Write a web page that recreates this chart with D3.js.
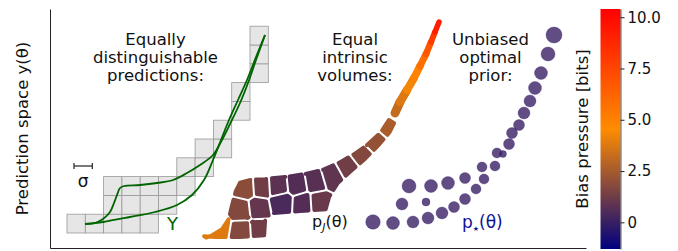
<!DOCTYPE html>
<html>
<head>
<meta charset="utf-8">
<script src="https://cdn.jsdelivr.net/npm/d3@7"></script>
<style>
  body { margin: 0; background: #fff; }
  text { font-family: "DejaVu Sans", sans-serif; fill: #111; }
</style>
</head>
<body>
<svg id="chart" width="678" height="251"></svg>
<script>
// ---- data (prediction-space units) ----
// grid of sigma-sized cells, [column, row]
const gridCells = [
  [0,0],[1,0],[2,0],[3,0],[4,0],
  [2,1],[3,1],[4,1],[5,1],
  [2,2],[3,2],[4,2],[5,2],[6,2],
  [6,3],[7,3],[7,4],[8,4],[8,5],
  [9,6],[9,7],[10,8],[10,9],[10,10]
];
const sigmaX = 18.3, sigmaY = 18.8, gridX0 = 17, gridY0 = 15;

// model manifold curves Y
const curveK = [[35,24],[45,25],[53,29],[60,36],[64,45],[67,53],[70,60],[74,62],[90,63],[107,65],[123,68],
  [137,75],[150,83],[163,93],[172,108],[180,124],[190,145],[198,165],[206,188],[215,213]];
const curveL = [[35,24],[53,26],[80,31],[105,36],[127,43],[142,53],[154,68],[163,88],[171,108],
  [179,128],[188,148],[197,168],[206,191],[215,213]];

// Jeffreys prior region: outline of the band
const bandUpper = [[150,11],[160,15],[170,21],[176,30],[179,43],[183,58],[188,68],[200,71],[215,72],[235,74],
  [255,77],[272,81],[288,88],[302,96],[315,105],[328,117],[338,132]];
const bandLower = [[348,126],[342,114],[330,100],[316,86],[302,74],[290,63],[282,50],[278,36],[250,34],
  [225,32],[218,26],[217,10],[190,8],[165,8],[153,9]];
// cell seeds [x, y, bias pressure]
const cellSeeds = [
  [168,21,3.8],[192,17,1.7],[209,18,1.3],
  [191,38,1.7],[208,40,1.0],[232,45,0.4],[253,44,0.6],[269,45,1.1],
  [196,60,1.9],[211,61,1.3],[228,62,0.8],[247,64,0.6],[265,67,0.7],[282,72,0.9],[298,81,1.3],
  [312,92,1.7],[326,106,2.1],[339,121,2.6]
];
// thin high-bias tail [x, y, bias pressure]
const tailPoints = [[345,135,2.9],[350,146,3.5],[357,158,4.0],[364,170,4.6],[370,182,5.3],
  [376,194,6.2],[381,206,7.3],[385,216,8.5],[389,226,10.0]];

// optimal prior atoms [x, y, mass]
const priorAtoms = [
  [323,26,0.83],[343,25,0.66],[363,26,0.56],[378,30,0.56],[392,35,0.56],[404,41,0.47],[415,49,0.47],
  [426,59,0.39],[434,69,0.39],[445,82,0.39],[447,95,0.39],[453,94,0.19],[459,104,0.47],[462,115,0.47],
  [469,123,0.47],[474,135,0.56],[480,147,0.56],[485,160,0.66],[491,175,0.66],[498,194,0.77],[504,213,1.0],
  [359,62,0.77],[381,62,0.66],[398,65,0.66],[415,70,0.47],[432,81,0.39],
  [352,44,0.56],[376,46,0.25]
];

const biasDomain = [-1.3, 10.4];
const biasColors = ["#000080", "#ff8c00", "#ff0000"];
const biasTicks = [0, 2.5, 5, 7.5, 10];

// ---- scales ----
const svg = d3.select("#chart");
const x = d3.scaleLinear().domain([0, 536]).range([50, 586]);
const y = d3.scaleLinear().domain([0, 239]).range([248, 9]);
const color = d3.scaleLinear()
  .domain([biasDomain[0], (biasDomain[0] + biasDomain[1]) / 2, biasDomain[1]])
  .range(biasColors);
const rScale = d3.scaleSqrt().domain([0, 1]).range([0, 8]);

// ---- left panel: grid + curves ----
svg.append("g").selectAll("rect")
  .data(gridCells)
  .join("rect")
    .attr("x", d => x(gridX0 + d[0] * sigmaX))
    .attr("y", d => y(gridY0 + (d[1] + 1) * sigmaY))
    .attr("width", d => x(gridX0 + (d[0] + 1) * sigmaX) - x(gridX0 + d[0] * sigmaX))
    .attr("height", d => y(gridY0 + d[1] * sigmaY) - y(gridY0 + (d[1] + 1) * sigmaY))
    .attr("fill", "#e6e6e6")
    .attr("stroke", "#999")
    .attr("stroke-width", 0.8);

const line = d3.line().x(d => x(d[0])).y(d => y(d[1])).curve(d3.curveCatmullRom.alpha(0.5));
svg.append("g").selectAll("path")
  .data([curveK, curveL])
  .join("path")
    .attr("d", line)
    .attr("fill", "none")
    .attr("stroke", "#006400")
    .attr("stroke-width", 1.8);

// sigma scale bar
const sbY = 82, sbX = 24;
const sb = svg.append("g").attr("stroke", "#222").attr("stroke-width", 1.2);
sb.append("line").attr("x1", x(sbX)).attr("x2", x(sbX + sigmaX)).attr("y1", y(sbY)).attr("y2", y(sbY));
sb.append("line").attr("x1", x(sbX)).attr("x2", x(sbX)).attr("y1", y(sbY) - 3).attr("y2", y(sbY) + 3);
sb.append("line").attr("x1", x(sbX + sigmaX)).attr("x2", x(sbX + sigmaX)).attr("y1", y(sbY) - 3).attr("y2", y(sbY) + 3);
svg.append("text").attr("x", x(sbX + sigmaX / 2)).attr("y", y(61)).attr("text-anchor", "middle")
  .style("font-size", "17px").text("σ");

svg.append("text").attr("x", x(122.5)).attr("y", y(18)).attr("text-anchor", "middle")
  .style("font-size", "18px").style("fill", "#006400").text("Y");

// ---- middle panel: clipped voronoi cells ----
function signedArea(poly) {
  let s = 0;
  for (let i = 0; i < poly.length; i++) {
    const a = poly[i], b = poly[(i + 1) % poly.length];
    s += a[0] * b[1] - b[0] * a[1];
  }
  return s;
}

function lineCross(p, q, a, b) {
  const A1 = q[0] - p[0], A2 = q[1] - p[1], B1 = b[0] - a[0], B2 = b[1] - a[1];
  const den = A1 * B2 - A2 * B1;
  if (Math.abs(den) < 1e-9) return null;
  const t = ((a[0] - p[0]) * B2 - (a[1] - p[1]) * B1) / den;
  return [p[0] + t * A1, p[1] + t * A2];
}

// clip any polygon by a convex one (Sutherland-Hodgman)
function clipPoly(subject, clip) {
  const sgn = signedArea(clip) > 0 ? 1 : -1;
  let out = subject;
  for (let i = 0; i < clip.length && out.length; i++) {
    const a = clip[i], b = clip[(i + 1) % clip.length];
    const inside = p => sgn * ((b[0] - a[0]) * (p[1] - a[1]) - (b[1] - a[1]) * (p[0] - a[0])) >= 0;
    const input = out;
    out = [];
    for (let j = 0; j < input.length; j++) {
      const p = input[j], q = input[(j + 1) % input.length];
      const pin = inside(p), qin = inside(q);
      if (pin) { out.push(p); if (!qin) out.push(lineCross(p, q, a, b)); }
      else if (qin) out.push(lineCross(p, q, a, b));
    }
  }
  return out;
}

// move every edge inwards by d
function insetPoly(poly, d) {
  const pts = poly.filter((p, i) => {
    const q = poly[(i + 1) % poly.length];
    return Math.hypot(p[0] - q[0], p[1] - q[1]) > 0.6;
  });
  const n = pts.length;
  const sgn = signedArea(pts) > 0 ? 1 : -1;
  const edges = pts.map((a, i) => {
    const b = pts[(i + 1) % n];
    const dx = b[0] - a[0], dy = b[1] - a[1], L = Math.hypot(dx, dy);
    const nx = -dy / L * sgn * d, ny = dx / L * sgn * d;
    return [[a[0] + nx, a[1] + ny], [b[0] + nx, b[1] + ny]];
  });
  return pts.map((p, i) => {
    const e1 = edges[(i - 1 + n) % n], e2 = edges[i];
    let q = lineCross(e1[0], e1[1], e2[0], e2[1]) || e2[0];
    const dist = Math.hypot(q[0] - p[0], q[1] - p[1]);
    if (dist > 3 * d) q = [p[0] + (q[0] - p[0]) * 3 * d / dist, p[1] + (q[1] - p[1]) * 3 * d / dist];
    return q;
  });
}

const bandPx = bandUpper.concat(bandLower).map(d => [x(d[0]), y(d[1])]);
const seedsPx = cellSeeds.map(d => [x(d[0]), y(d[1])]);
const voronoi = d3.Delaunay.from(seedsPx).voronoi([0, 0, 678, 251]);
const cells = cellSeeds.map((d, i) => {
  const cell = voronoi.cellPolygon(i).slice(0, -1);
  return {poly: insetPoly(clipPoly(bandPx, cell), 2.9), v: d[2]};
});

svg.append("g").selectAll("path")
  .data(cells)
  .join("path")
    .attr("d", d => "M" + d.poly.map(p => p.join(",")).join("L") + "Z")
    .attr("fill", d => color(d.v))
    .attr("stroke", d => color(d.v))
    .attr("stroke-width", 3.8)
    .attr("stroke-linejoin", "round");

// tail: short round-capped segments
const tailSegs = d3.pairs(tailPoints);
svg.append("g").selectAll("line")
  .data(tailSegs)
  .join("line")
    .attr("x1", d => x(d[0][0])).attr("y1", d => y(d[0][1]))
    .attr("x2", d => x(d[1][0])).attr("y2", d => y(d[1][1]))
    .attr("stroke", d => color((d[0][2] + d[1][2]) / 2))
    .attr("stroke-width", (d, i) => 9 - i * 0.5)
    .attr("stroke-linecap", "round");

const pj = svg.append("text").attr("x", x(262)).attr("y", y(21)).style("font-size", "16px");
pj.append("tspan").text("p");
pj.append("tspan").attr("dy", 4).style("font-size", "11px").style("font-style", "italic").text("J");
pj.append("tspan").attr("dy", -4).text("(θ)");

// ---- right panel: optimal prior atoms ----
svg.append("g").selectAll("circle")
  .data(priorAtoms)
  .join("circle")
    .attr("cx", d => x(d[0]))
    .attr("cy", d => y(d[1]))
    .attr("r", d => rScale(d[2]))
    .attr("fill", color(0))
    .attr("fill-opacity", 0.8)
    .attr("stroke", color(-0.3))
    .attr("stroke-opacity", 0.5)
    .attr("stroke-width", 0.6);

const ps = svg.append("text").attr("x", x(412)).attr("y", y(20)).style("font-size", "17px").style("fill", "#10109a");
ps.append("tspan").text("p");
ps.append("tspan").attr("dy", 3).style("font-size", "7px").style("fill", "#10109a").text("★");
ps.append("tspan").attr("dy", -3).style("fill", "#10109a").text("(θ)");

// ---- titles ----
const titles = [
  {x: 105.5, lines: ["Equally", "distinguishable", "predictions:"]},
  {x: 305, lines: ["Equal", "intrinsic", "volumes:"]},
  {x: 440.5, lines: ["Unbiased", "optimal", "prior:"]}
];
titles.forEach(t => {
  const txt = svg.append("text").attr("text-anchor", "middle").style("font-size", "16.5px");
  t.lines.forEach((l, i) => {
    txt.append("tspan").attr("x", x(t.x)).attr("y", y(203) + i * 18).text(l);
  });
});

// ---- axes (spines only) ----
svg.append("g").attr("transform", `translate(${x(0)},0)`)
  .call(d3.axisLeft(y).tickValues([]).tickSizeOuter(0))
  .call(g => g.select(".domain").attr("stroke", "#222"));
svg.append("g").attr("transform", `translate(0,${y(0)})`)
  .call(d3.axisBottom(x).tickValues([]).tickSizeOuter(0))
  .call(g => g.select(".domain").attr("stroke", "#222"));

svg.append("text")
  .attr("transform", `translate(28,${(y(0) + y(239)) / 2}) rotate(-90)`)
  .attr("text-anchor", "middle")
  .style("font-size", "16.5px")
  .text("Prediction space y(θ)");

// ---- colorbar ----
const cb = {x0: 600.5, x1: 620.5};
const cbScale = d3.scaleLinear().domain(biasDomain).range([249, 9]);
const grad = svg.append("defs").append("linearGradient")
  .attr("id", "biasGrad").attr("x1", 0).attr("x2", 0).attr("y1", 1).attr("y2", 0);
grad.selectAll("stop")
  .data(color.domain())
  .join("stop")
    .attr("offset", d => (d - biasDomain[0]) / (biasDomain[1] - biasDomain[0]))
    .attr("stop-color", d => color(d));
svg.append("rect")
  .attr("x", cb.x0).attr("y", cbScale(biasDomain[1]))
  .attr("width", cb.x1 - cb.x0).attr("height", cbScale(biasDomain[0]) - cbScale(biasDomain[1]))
  .attr("fill", "url(#biasGrad)");
svg.append("g").attr("transform", `translate(${cb.x1},0)`)
  .call(d3.axisRight(cbScale).tickValues(biasTicks).tickSize(4).tickSizeOuter(0)
    .tickFormat(d => d === 0 ? "0" : d3.format(".1f")(d)))
  .call(g => g.select(".domain").attr("stroke", "#333").attr("stroke-width", 0.8))
  .call(g => g.selectAll(".tick line").attr("stroke", "#222"))
  .call(g => g.selectAll(".tick text").attr("x", 7).style("font-size", "15px")
    .style("font-family", "DejaVu Sans, sans-serif").attr("fill", "#111"));

svg.append("text")
  .attr("transform", `translate(588,${(cbScale(biasDomain[0]) + cbScale(biasDomain[1])) / 2}) rotate(-90)`)
  .attr("text-anchor", "middle")
  .style("font-size", "16.5px")
  .text("Bias pressure [bits]");
</script>
</body>
</html>
